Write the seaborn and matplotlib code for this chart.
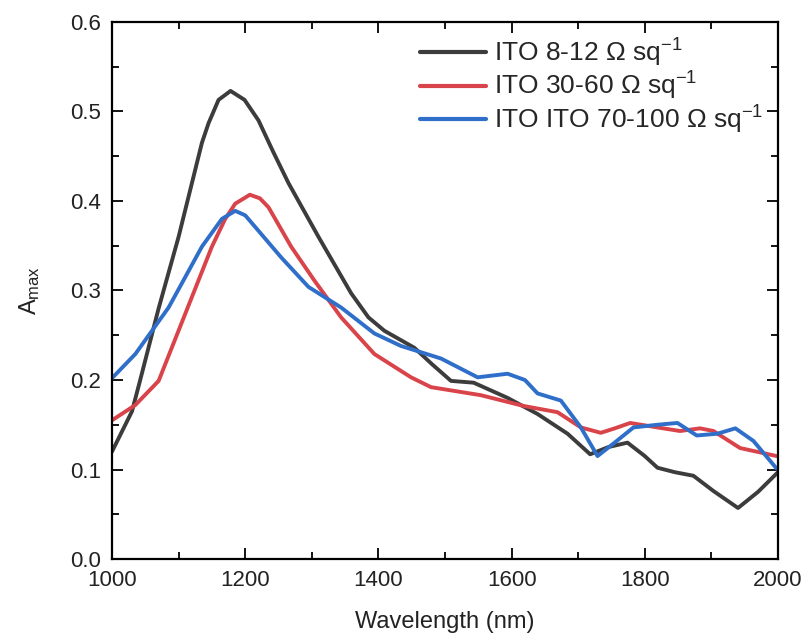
import numpy as np
import pandas as pd
import matplotlib
matplotlib.use("Agg")
import matplotlib.pyplot as plt
import seaborn as sns
from matplotlib.ticker import MultipleLocator, FormatStrFormatter

labels = ["ITO 8-12 $\\Omega$ sq$^{-1}$", "ITO 30-60 $\\Omega$ sq$^{-1}$", "ITO ITO 70-100 $\\Omega$ sq$^{-1}$"]
colors = ["#3c3c3c", "#d9434a", "#2f6fc9"]

wl_black = [1000, 1030, 1042, 1070, 1100, 1135, 1145, 1160, 1178, 1199, 1220, 1242, 1265, 1310, 1359, 1385, 1409, 1454, 1480, 1509, 1543,
            1594, 1639, 1684, 1718, 1745, 1774, 1800, 1819, 1845, 1873, 1903, 1940, 1970, 2000]
a_black = [0.12, 0.165, 0.199, 0.28, 0.36, 0.465, 0.487, 0.513, 0.523, 0.513, 0.49, 0.455, 0.42, 0.36, 0.297, 0.27, 0.255, 0.236, 0.218, 0.199, 0.197,
           0.180, 0.162, 0.140, 0.117, 0.125, 0.130, 0.115, 0.102, 0.097, 0.093, 0.076, 0.057, 0.075, 0.097]

wl_red = [1000, 1035, 1070, 1110, 1150, 1170, 1185, 1207, 1222, 1235, 1269, 1304, 1344, 1394, 1449, 1479, 1554, 1618, 1669,
          1704, 1734, 1755, 1778, 1819, 1853, 1883, 1903, 1943, 1998]
a_red = [0.155, 0.172, 0.199, 0.274, 0.349, 0.38, 0.397, 0.407, 0.403, 0.393, 0.349, 0.311, 0.270, 0.229, 0.203, 0.192, 0.183, 0.171, 0.164,
         0.147, 0.141, 0.146, 0.152, 0.147, 0.143, 0.146, 0.143, 0.124, 0.115]

wl_blue = [1000, 1035, 1085, 1135, 1165, 1185, 1200, 1215, 1254, 1295, 1344, 1394, 1434, 1494, 1549, 1594, 1620, 1639, 1674,
           1704, 1729, 1753, 1783, 1819, 1849, 1878, 1909, 1936, 1963, 1998]
a_blue = [0.202, 0.229, 0.281, 0.349, 0.380, 0.389, 0.384, 0.371, 0.337, 0.304, 0.281, 0.252, 0.238, 0.224, 0.203, 0.207, 0.200, 0.185, 0.177,
          0.147, 0.115, 0.129, 0.147, 0.150, 0.152, 0.138, 0.140, 0.146, 0.132, 0.101]

df = pd.concat([
    pd.DataFrame({"wl": wl_black, "A": a_black, "s": labels[0]}),
    pd.DataFrame({"wl": wl_red, "A": a_red, "s": labels[1]}),
    pd.DataFrame({"wl": wl_blue, "A": a_blue, "s": labels[2]}),
], ignore_index=True)

sns.set_style("ticks")
plt.rcParams['font.family'] = ['Liberation Sans', 'DejaVu Sans']
plt.rcParams['mathtext.fontset'] = 'custom'
plt.rcParams['mathtext.rm'] = 'Liberation Sans'
plt.rcParams['mathtext.it'] = 'Liberation Sans:italic'

fig = plt.figure(figsize=(8.05, 6.36), dpi=100)
ax = fig.add_axes([112 / 805, 1 - 559 / 636, (778 - 112) / 805, (559 - 22) / 636])
sns.lineplot(data=df, x="wl", y="A", hue="s", palette=colors, linewidth=2.8, ax=ax, sort=False, estimator=None)

ax.set_xlim(1000, 2000)
ax.set_ylim(0.0, 0.6)
ax.xaxis.set_major_locator(MultipleLocator(200))
ax.xaxis.set_minor_locator(MultipleLocator(100))
ax.yaxis.set_major_locator(MultipleLocator(0.1))
ax.yaxis.set_minor_locator(MultipleLocator(0.05))
ax.yaxis.set_major_formatter(FormatStrFormatter('%.1f'))
ax.tick_params(which='both', direction='in', top=True, right=True, labelsize=16, color='black', width=1.3,
               labelcolor='#222222')
ax.tick_params(axis='x', which='major', pad=8)
ax.tick_params(axis='y', which='major', pad=8)
ax.tick_params(which='major', length=8)
ax.tick_params(which='minor', length=5)
for sp in ax.spines.values():
    sp.set_linewidth(1.6)
    sp.set_color('black')
ax.set_xlabel("Wavelength (nm)", fontsize=17, labelpad=14, color='#222222')
ax.set_ylabel("A$_{\\mathrm{max}}$", fontsize=17, labelpad=20, color='#222222')

leg = ax.legend(loc='upper right', frameon=False, fontsize=19, handlelength=2.5, handletextpad=0.3,
                labelspacing=0.05, borderaxespad=0.15)
for line in leg.get_lines():
    line.set_linewidth(3)

fig.savefig("out.png", dpi=100)
